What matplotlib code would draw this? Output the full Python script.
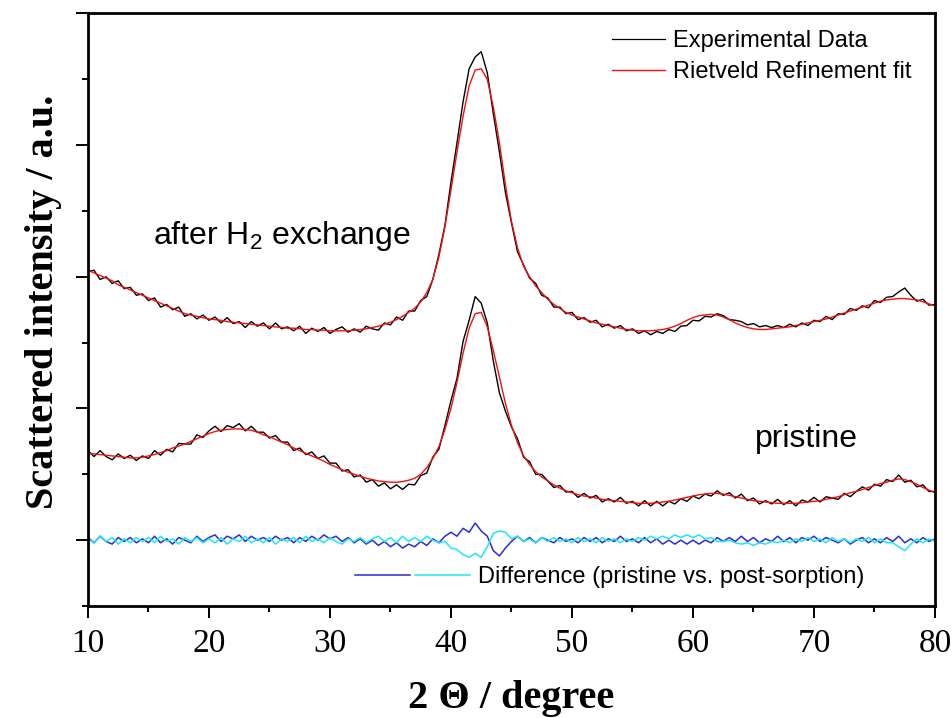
import numpy as np
import matplotlib
matplotlib.use('Agg')
import matplotlib.pyplot as plt
from matplotlib.lines import Line2D
from matplotlib.legend_handler import HandlerTuple
from matplotlib.ticker import MultipleLocator

plt.rcParams['mathtext.fontset'] = 'custom'
plt.rcParams['mathtext.rm'] = 'Liberation Sans'
plt.rcParams['mathtext.it'] = 'Liberation Sans:italic'

# scan grid, 2 theta in degrees (0.5 deg step)
two_theta = np.arange(10, 80.01, 0.5)

# Rietveld fit, sample after H2 exchange (offset stack, a.u.)
fit_after = np.array([
    2.05, 2.03, 2.01, 1.99, 1.97, 1.94, 1.92, 1.90, 1.88, 1.86,
    1.84, 1.82, 1.80, 1.78, 1.76, 1.74, 1.72, 1.71, 1.70, 1.69,
    1.68, 1.675, 1.67, 1.66, 1.655, 1.65, 1.645, 1.64, 1.635, 1.63,
    1.625, 1.62, 1.615, 1.61, 1.61, 1.605, 1.60, 1.60, 1.595, 1.595,
    1.59, 1.59, 1.59, 1.59, 1.595, 1.60, 1.605, 1.615, 1.625, 1.64,
    1.655, 1.675, 1.70, 1.73, 1.76, 1.81, 1.88, 1.98, 2.15, 2.38,
    2.66, 2.95, 3.22, 3.45, 3.57, 3.58, 3.50, 3.29, 3.02, 2.70,
    2.42, 2.22, 2.08, 2.00, 1.93, 1.88, 1.83, 1.79, 1.76, 1.73,
    1.71, 1.695, 1.68, 1.665, 1.65, 1.64, 1.63, 1.62, 1.61, 1.60,
    1.595, 1.59, 1.59, 1.59, 1.595, 1.60, 1.61, 1.625, 1.645, 1.67,
    1.69, 1.705, 1.71, 1.715, 1.71, 1.695, 1.675, 1.65, 1.63, 1.615,
    1.605, 1.60, 1.60, 1.605, 1.61, 1.615, 1.62, 1.63, 1.64, 1.65,
    1.66, 1.67, 1.68, 1.695, 1.71, 1.725, 1.74, 1.755, 1.77, 1.785,
    1.80, 1.815, 1.825, 1.83, 1.835, 1.835, 1.83, 1.825, 1.81, 1.795,
    1.78])

# Rietveld fit, pristine sample
fit_pristine = np.array([
    0.66, 0.655, 0.65, 0.645, 0.64, 0.635, 0.63, 0.625, 0.625, 0.63,
    0.64, 0.65, 0.665, 0.68, 0.70, 0.715, 0.73, 0.75, 0.77, 0.79,
    0.81, 0.825, 0.835, 0.84, 0.845, 0.845, 0.84, 0.835, 0.82, 0.80,
    0.785, 0.765, 0.745, 0.725, 0.70, 0.68, 0.66, 0.64, 0.62, 0.60,
    0.575, 0.555, 0.535, 0.515, 0.50, 0.485, 0.47, 0.46, 0.45, 0.445,
    0.44, 0.44, 0.445, 0.455, 0.47, 0.50, 0.55, 0.62, 0.71, 0.84,
    1.00, 1.20, 1.42, 1.61, 1.72, 1.73, 1.62, 1.44, 1.24, 1.04,
    0.87, 0.74, 0.64, 0.575, 0.52, 0.48, 0.45, 0.42, 0.395, 0.375,
    0.36, 0.345, 0.335, 0.33, 0.32, 0.31, 0.305, 0.30, 0.295, 0.29,
    0.285, 0.28, 0.28, 0.28, 0.285, 0.29, 0.295, 0.305, 0.315, 0.325,
    0.335, 0.345, 0.35, 0.355, 0.355, 0.35, 0.34, 0.33, 0.32, 0.31,
    0.30, 0.295, 0.29, 0.285, 0.28, 0.28, 0.28, 0.28, 0.285, 0.29,
    0.295, 0.30, 0.31, 0.32, 0.33, 0.345, 0.36, 0.37, 0.385, 0.40,
    0.415, 0.43, 0.44, 0.455, 0.465, 0.46, 0.445, 0.425, 0.40, 0.38,
    0.36])

# difference curves (blue: pristine, cyan: post-sorption)
diff_pristine = np.array([
    0.02, -0.02, 0.03, -0.01, -0.03, 0.02, -0.01, 0.02, -0.02, 0.01,
    -0.02, 0.03, -0.02, 0.01, -0.03, 0.02, 0.00, -0.02, 0.03, -0.01,
    0.02, 0.04, -0.01, 0.03, 0.01, 0.04, -0.01, 0.03, 0.00, 0.02,
    -0.01, 0.03, 0.00, 0.02, -0.02, 0.02, -0.01, 0.03, 0.00, 0.04,
    0.01, 0.03, -0.01, 0.02, -0.02, 0.01, -0.03, 0.00, -0.04, -0.01,
    -0.05, -0.02, -0.06, -0.03, -0.05, -0.01, -0.04, 0.01, -0.02, 0.03,
    0.06, 0.03, 0.09, 0.06, 0.13, 0.07, 0.03, -0.08, -0.12, -0.06,
    -0.01, 0.03, -0.01, 0.02, -0.02, 0.02, 0.00, -0.02, 0.02, -0.01,
    0.01, -0.02, 0.02, -0.01, 0.02, -0.02, 0.01, -0.01, 0.03, -0.01,
    0.01, -0.02, 0.02, -0.02, 0.01, -0.03, 0.00, -0.03, 0.00, -0.03,
    0.00, -0.03, 0.00, -0.02, 0.02, -0.01, 0.02, -0.01, 0.03, -0.01,
    0.02, -0.02, 0.01, -0.01, 0.03, -0.01, 0.02, -0.02, 0.02, 0.00,
    0.03, -0.01, 0.02, 0.00, -0.02, 0.01, -0.03, 0.00, 0.02, -0.02,
    0.01, -0.02, 0.02, -0.01, 0.03, -0.02, 0.01, -0.02, 0.02, -0.01,
    0.01])

diff_after = np.array([
    0.01, -0.02, 0.03, -0.01, 0.02, -0.03, 0.01, -0.02, 0.02, -0.01,
    0.02, -0.02, 0.03, -0.01, 0.01, -0.03, 0.02, -0.01, 0.02, -0.02,
    0.01, -0.02, 0.02, -0.03, 0.01, -0.01, 0.03, -0.02, 0.01, -0.02,
    0.02, -0.03, 0.01, -0.01, 0.02, -0.02, 0.03, -0.01, 0.01, -0.02,
    0.02, -0.01, -0.03, 0.01, -0.01, 0.02, -0.02, 0.01, 0.03, -0.01,
    0.02, -0.02, 0.03, -0.01, 0.02, -0.01, 0.03, 0.00, -0.02, -0.01,
    -0.06, -0.07, -0.11, -0.13, -0.10, -0.13, -0.05, 0.05, 0.07, 0.06,
    0.01, 0.03, -0.01, 0.01, -0.02, 0.02, -0.01, 0.02, -0.01, 0.01,
    -0.02, 0.02, -0.01, 0.01, -0.02, 0.02, -0.01, 0.01, -0.02, 0.01,
    -0.01, 0.02, 0.00, 0.03, 0.01, 0.03, 0.01, 0.04, 0.02, 0.04,
    0.02, 0.04, 0.01, 0.02, -0.01, -0.01, 0.00, -0.02, -0.03, -0.02,
    -0.04, -0.02, -0.03, -0.01, -0.02, 0.00, -0.02, 0.01, -0.01, 0.02,
    -0.01, 0.01, -0.02, 0.02, -0.01, 0.01, -0.02, 0.01, -0.01, 0.02,
    -0.02, 0.01, -0.02, -0.02, -0.05, -0.08, -0.03, 0.01, -0.02, 0.01,
    -0.01])

# observed = calculated + residual
exp_pristine = fit_pristine + diff_pristine
exp_after = fit_after - diff_after

serif = 'Liberation Serif'
sans = 'Liberation Sans'

fig = plt.figure(figsize=(9.53, 7.18), dpi=100)
ax = fig.add_axes([0.0923, 0.156, 0.8888, 0.8252])

ax.plot(two_theta, diff_pristine, color='#2b2bd9', lw=1.1)
ax.plot(two_theta, diff_after, color='#1ee8f0', lw=1.1)
ax.plot(two_theta, exp_pristine, color='black', lw=1.0)
ax.plot(two_theta, fit_pristine, color='#f01010', lw=1.0)
ax.plot(two_theta, exp_after, color='black', lw=1.0)
ax.plot(two_theta, fit_after, color='#f01010', lw=1.0)

ax.set_xlim(10, 80)
ax.set_ylim(-0.5, 4.0)
ax.xaxis.set_major_locator(MultipleLocator(10))
ax.xaxis.set_minor_locator(MultipleLocator(5))
ax.yaxis.set_major_locator(MultipleLocator(1))
ax.yaxis.set_minor_locator(MultipleLocator(0.5))
ax.tick_params(which='major', direction='out', length=8.5, width=1.4)
ax.tick_params(which='minor', direction='out', length=4.5, width=1.4)
ax.tick_params(axis='y', labelleft=False)
ax.tick_params(axis='x', labelsize=24, pad=8)
for lbl in ax.get_xticklabels():
    lbl.set_family(serif)
for s in ax.spines.values():
    s.set_linewidth(2.0)

ax.set_xlabel('2 \u0398 / degree', fontsize=29, fontweight='bold', family=serif)
ax.xaxis.set_label_coords(0.5, -0.125)
ax.set_ylabel('Scattered intensity / a.u.', fontsize=29, fontweight='bold', family=serif)
ax.yaxis.set_label_coords(-0.031, 0.513)

ax.text(15.4, 2.25, 'after H$_2$ exchange', fontsize=23, family=sans)
ax.text(65.1, 0.71, 'pristine', fontsize=23, family=sans)

h1 = [Line2D([], [], color='black', lw=0.9), Line2D([], [], color='#f01010', lw=1.0)]
leg1 = ax.legend(h1, ['Experimental Data', 'Rietveld Refinement fit'],
                 loc='center left', bbox_to_anchor=(0.619, 0.927), frameon=False,
                 prop={'family': sans, 'size': 17}, handlelength=2.25,
                 handletextpad=0.33, labelspacing=0.4, borderpad=0, borderaxespad=0)
ax.add_artist(leg1)

hb = Line2D([], [], color='#2b2bd9', lw=1.1)
hc = Line2D([], [], color='#1ee8f0', lw=1.1)
ax.legend([(hb, hc)], ['Difference (pristine vs. post-sorption)'],
          handler_map={tuple: HandlerTuple(ndivide=None, pad=0.22)},
          loc='center left', bbox_to_anchor=(0.315, 0.049), frameon=False,
          prop={'family': sans, 'size': 17}, handlelength=4.87,
          handletextpad=0.33, borderpad=0, borderaxespad=0)

fig.savefig('out.png', dpi=100)
